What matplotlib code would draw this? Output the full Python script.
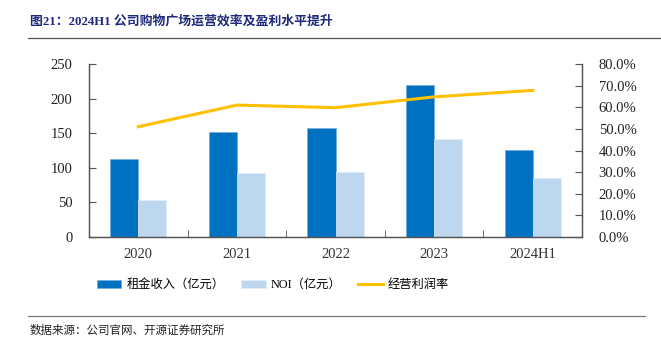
import matplotlib.pyplot as plt
from matplotlib.ticker import FuncFormatter
import numpy as np

plt.rcParams['font.family'] = ['Liberation Serif', 'Noto Sans CJK SC']

years = ['2020', '2021', '2022', '2023', '2024H1']
rent = [112, 152, 158, 220, 126]
noi = [53, 93, 94, 142, 85]
margin = [51.0, 61.0, 59.8, 64.8, 67.8]

fig = plt.figure(figsize=(6.61, 3.48), dpi=100)
W, H = 661, 348
ax = fig.add_axes([89 / W, 1 - 237 / H, (582 - 89) / W, (237 - 64) / H])
ax2 = ax.twinx()

x = np.arange(len(years))
bw = 0.285
ax.bar(x - bw / 2, rent, bw, color='#0070C0', edgecolor='#6fa8dc', linewidth=0.4, label='租金收入（亿元）')
ax.bar(x + bw / 2, noi, bw, color='#BDD7EE', edgecolor='#e3eef8', linewidth=0.4, label='NOI（亿元）')
ax2.plot(x, margin, color='#FFC000', linewidth=2.2, label='经营利润率')

ax.set_xlim(-0.5, len(years) - 0.5)
ax.set_ylim(0, 250)
ax.set_yticks(range(0, 251, 50))
ax2.set_ylim(0, 80)
ax2.set_yticks(range(0, 81, 10))
ax2.yaxis.set_major_formatter(FuncFormatter(lambda v, p: f'{v:.1f}%'))

ax.set_xticks(x)
ax.set_xticklabels(years)
ax.set_xticks(np.arange(0.5, len(years) - 1, 1), minor=True)
ax.tick_params(axis='x', which='major', length=0, pad=8, labelsize=10.5, colors='#333333')
ax.tick_params(axis='x', which='minor', direction='in', length=5, color='#555555')
ax.tick_params(axis='y', direction='in', length=5, labelsize=10.5, color='#555555', labelcolor='#222222', pad=12)
ax2.tick_params(axis='y', direction='in', length=5, labelsize=10.5, color='#555555', labelcolor='#222222', pad=12)

for a in (ax, ax2):
    a.spines['top'].set_visible(False)
    for s in ('left', 'right', 'bottom'):
        a.spines[s].set_color('#555555')
        a.spines[s].set_linewidth(0.9)

h1, l1 = ax.get_legend_handles_labels()
h2, l2 = ax2.get_legend_handles_labels()
fig.legend(h1 + h2, l1 + l2, loc='center', bbox_to_anchor=(273 / W, 1 - 285 / H), ncol=3, frameon=False,
           fontsize=8.8, handlelength=2.0, handleheight=0.6, columnspacing=1.4, handletextpad=0.4)

fig.text(30 / W, 1 - 21 / H, '图21：2024H1 公司购物广场运营效率及盈利水平提升', fontsize=9.3, fontweight='bold',
         color='#1F2A7A', va='center', ha='left')
fig.add_artist(plt.Line2D([28 / W, 1.0], [1 - 38 / H] * 2, color='#555555', linewidth=0.9))
fig.add_artist(plt.Line2D([28 / W, 645 / W], [1 - 316 / H] * 2, color='#777777', linewidth=0.9))
fig.text(30 / W, 1 - 331 / H, '数据来源：公司官网、开源证券研究所', fontsize=8.3, color='#222222', va='center', ha='left')

fig.savefig('out.png', dpi=100)
